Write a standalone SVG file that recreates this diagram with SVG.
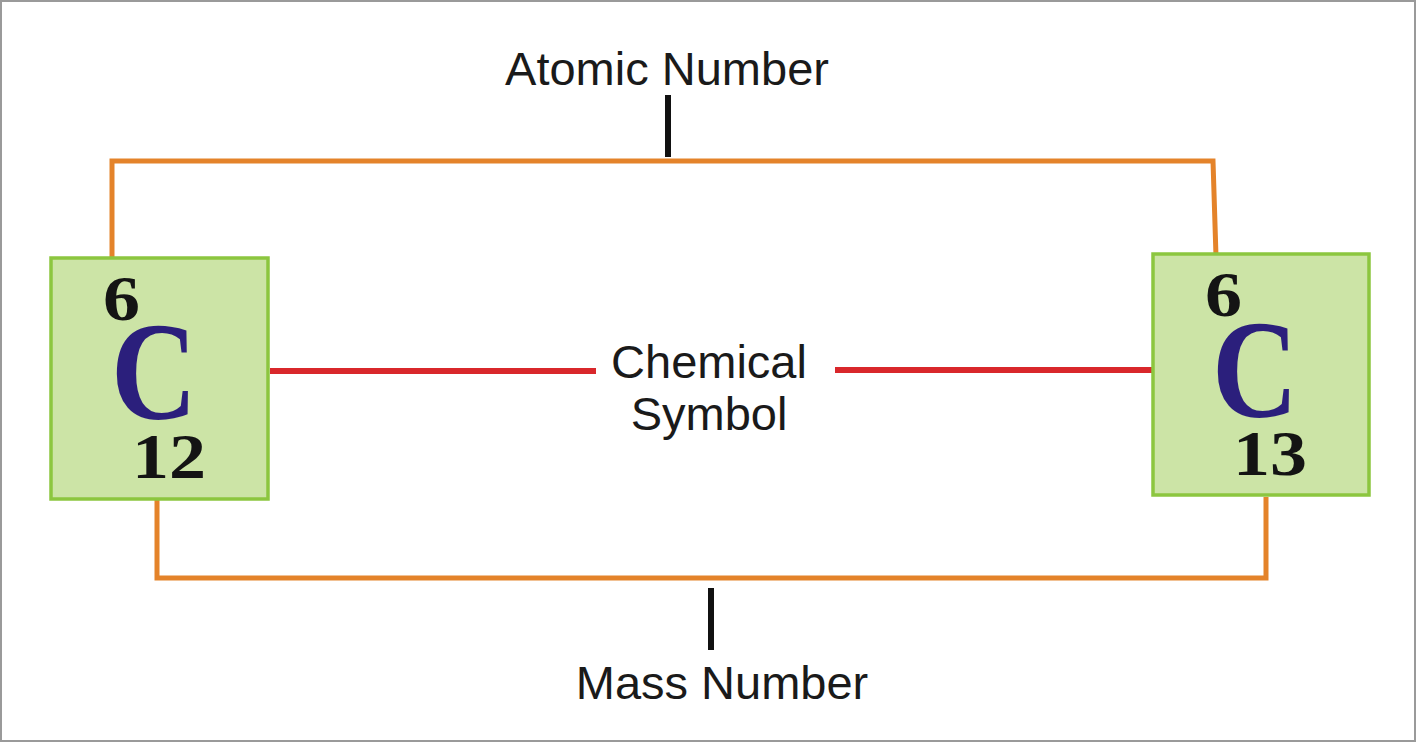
<svg xmlns="http://www.w3.org/2000/svg" width="1416" height="742" viewBox="0 0 1416 742">
<style>
.lbl{font-family:"Liberation Sans",Arial,sans-serif;font-size:47px;fill:#1a1a1a}
.box{fill:#cce4a6;stroke:#8cc63f;stroke-width:3.5}
.num{font-family:"Liberation Serif","Times New Roman",serif;font-weight:bold;font-size:63px;fill:#141414}
.sym{font-family:"Liberation Serif","Times New Roman",serif;font-weight:bold;font-size:140px;fill:#2b1f7c}
.orange{fill:none;stroke:#e4832a;stroke-width:5}
.red{stroke:#d9272b;stroke-width:6}
.tick{stroke:#111;stroke-width:6}
</style>
<rect x="1" y="1" width="1414" height="740" fill="#fff" stroke="#9a9a9a" stroke-width="2"/>
<g id="connectors">
<polyline class="orange" points="112,258 112,161 1213,161 1216,256"/>
<polyline class="orange" points="157,500 157,578 1266,578 1266,497"/>
<line class="red" x1="270" y1="371" x2="596" y2="371"/>
<line class="red" x1="835" y1="370" x2="1152" y2="370"/>
<line class="tick" x1="668" y1="95" x2="668" y2="157"/>
<line class="tick" x1="711" y1="588" x2="711" y2="650"/>
</g>
<g id="label-atomic"><text class="lbl" x="667" y="85" text-anchor="middle">Atomic Number</text></g>
<g id="label-mass"><text class="lbl" x="722" y="699" text-anchor="middle">Mass Number</text></g>
<g id="label-symbol"><text class="lbl" x="709" y="378" text-anchor="middle">Chemical</text><text class="lbl" x="709" y="430" text-anchor="middle">Symbol</text></g>
<g id="carbon-12">
<rect class="box" x="51" y="258" width="217" height="241"/>
<text class="num" x="103" y="320" textLength="37" lengthAdjust="spacingAndGlyphs">6</text>
<text class="sym" x="111" y="419" textLength="86" lengthAdjust="spacingAndGlyphs">C</text>
<text class="num" x="132" y="478" textLength="74" lengthAdjust="spacingAndGlyphs">12</text>
</g>
<g id="carbon-13">
<rect class="box" x="1153" y="254" width="216" height="241"/>
<text class="num" x="1205" y="316" textLength="37" lengthAdjust="spacingAndGlyphs">6</text>
<text class="sym" x="1212" y="417" textLength="86" lengthAdjust="spacingAndGlyphs">C</text>
<text class="num" x="1233" y="475" textLength="74" lengthAdjust="spacingAndGlyphs">13</text>
</g>
</svg>
